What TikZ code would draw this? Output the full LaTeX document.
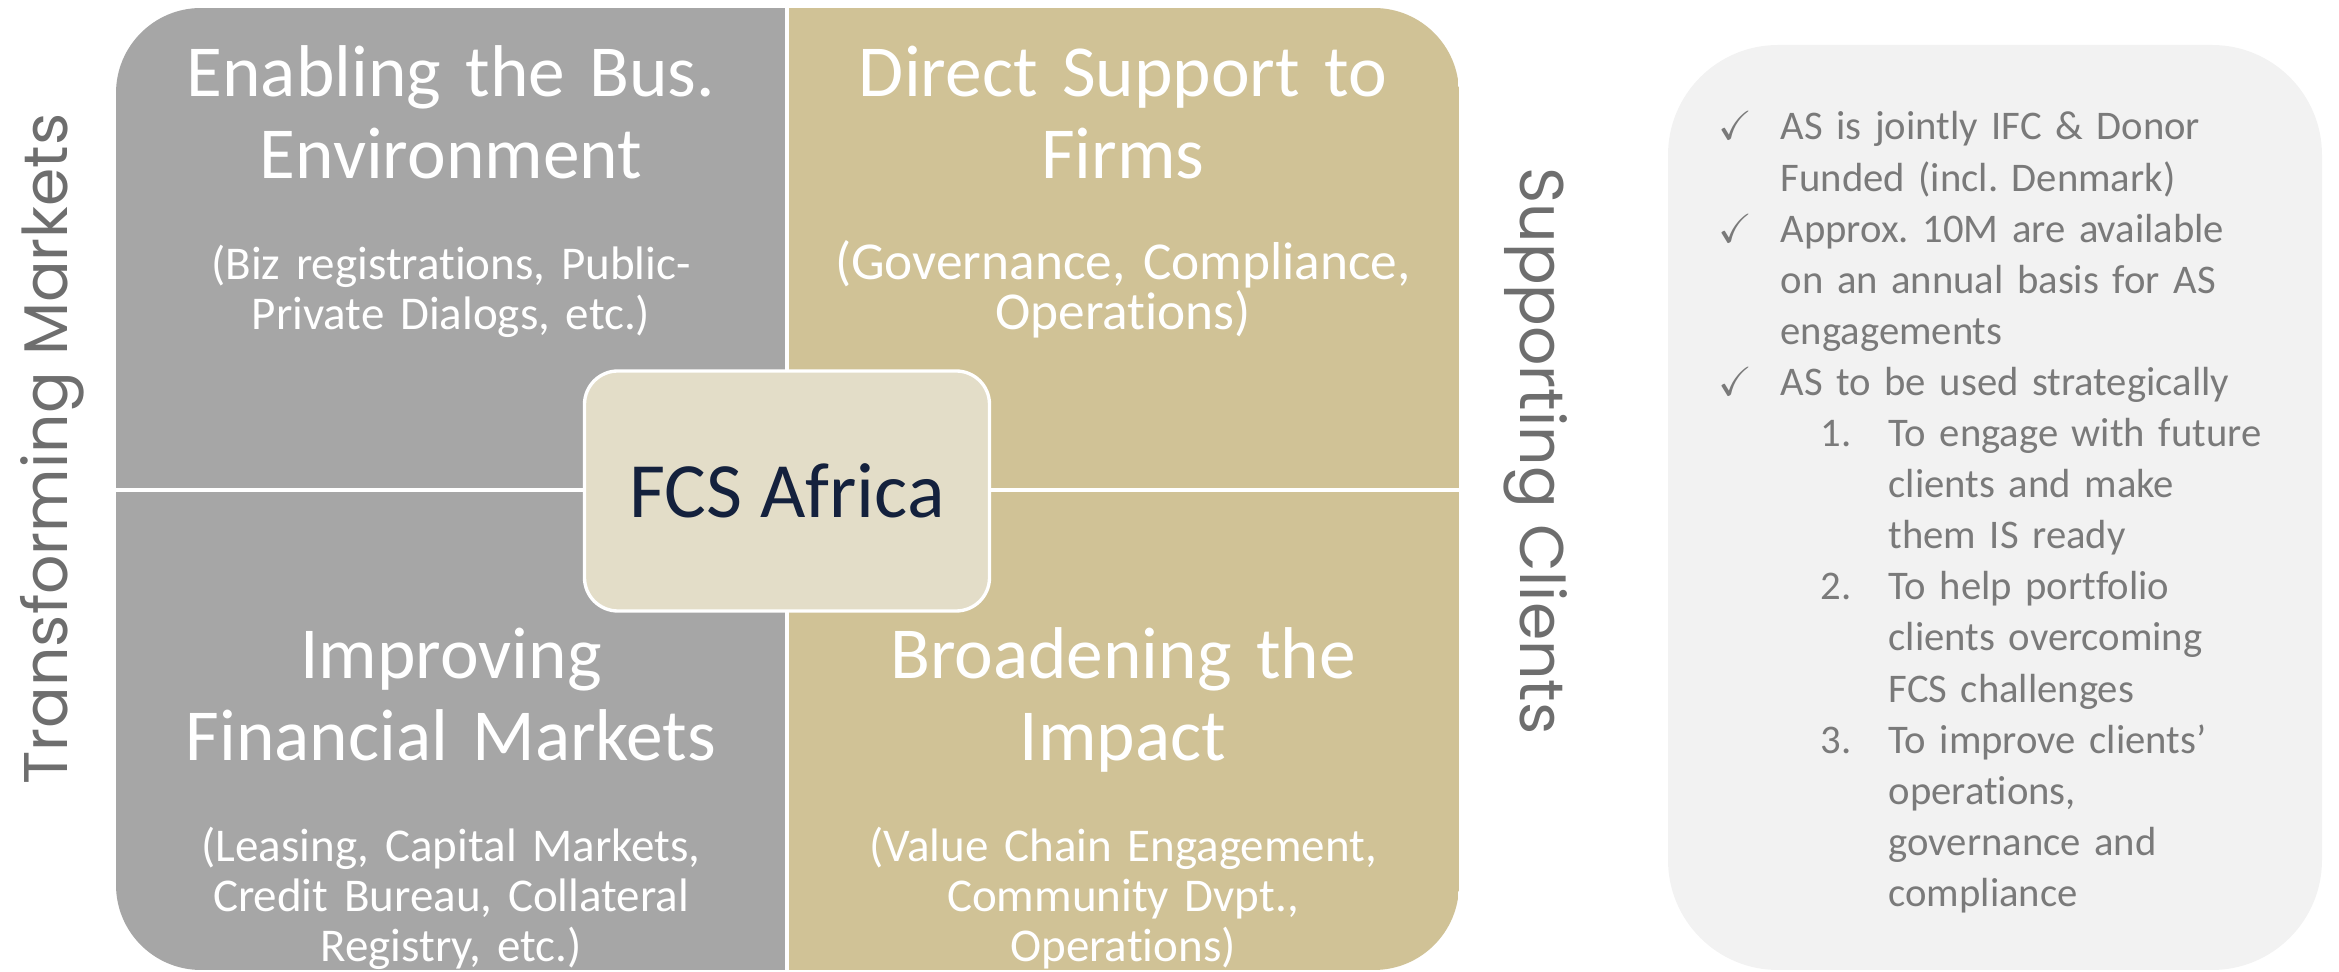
\documentclass[tikz,border=0pt]{standalone}
\usepackage{fontspec}
\usepackage{amssymb}
\setmainfont{Carlito}[Ligatures=NoCommon]
\newfontfamily\sidefont{Poppins}
\usetikzlibrary{positioning}
\frenchspacing

\definecolor{quadgray}{HTML}{A6A6A6}
\definecolor{quadtan}{HTML}{D0C296}
\definecolor{corefill}{HTML}{E3DDC8}
\definecolor{corenavy}{HTML}{14213D}
\definecolor{notefill}{HTML}{F2F2F2}
\definecolor{notegray}{HTML}{7A7A7A}
\definecolor{sidegray}{HTML}{6E6E6E}

% columns of the notes list
\newcommand{\tickcol}{\makebox[18.6pt][l]{\checkmark}}
\newcommand{\tickgap}{\hspace*{18.6pt}}
\newcommand{\numcol}[1]{\hspace*{30.6pt}\makebox[20.4pt][l]{#1}}
\newcommand{\numgap}{\hspace*{51pt}}

\begin{document}
\begin{tikzpicture}[x=0.3pt,y=-0.3pt,
  quadtitle/.style={text=white,align=center,inner sep=0pt,text width=190pt,
    font=\fontsize{22}{24.5}\selectfont},
  quadsub/.style={text=white,align=center,inner sep=0pt,text width=190pt,
    font=\fontsize{14.1}{15}\selectfont},
  corebox/.style={fill=corefill,draw=white,line width=1pt,rounded corners=10pt,
    minimum width=121.5pt,minimum height=72pt,text=corenavy,
    font=\fontsize{23.5}{28}\selectfont},
  sidelabel/.style={text=sidegray,inner sep=0pt,font=\sidefont\fontsize{18.5}{22}\selectfont},
  notepanel/.style={fill=notefill,rounded corners=33pt,minimum width=196.2pt,
    minimum height=277.5pt,inner sep=0pt},
  notetext/.style={text=notegray,align=left,inner sep=0pt,text width=175pt,
    font=\fontsize{12.2}{15.33}\selectfont}]
\useasboundingbox (0,0) rectangle (2339,972);

% four quadrants inside one rounded block
\begin{scope}
  \clip[rounded corners=25.5pt] (116,8) rectangle (1459,970);
  \fill[quadgray] (116,8) rectangle (787,970);
  \fill[quadtan] (787,8) rectangle (1459,970);
\end{scope}
\draw[white,line width=1pt] (787,8) -- (787,970);
\draw[white,line width=1pt] (116,490) -- (1459,490);

% quadrant texts
\node[quadtitle,anchor=base] (envtitle) at (451,97) {Enabling the Bus.\\Environment};
\node[quadsub,anchor=base] (envsub) at (451,280) {(Biz registrations, Public-\\Private Dialogs, etc.)};
\node[quadtitle,anchor=base] (firmtitle) at (1123,97) {Direct Support to\\Firms};
\node[quadsub,anchor=base,font=\fontsize{16}{15}\selectfont] (firmsub) at (1123,280) {(Governance, Compliance,\\Operations)};
\node[quadtitle,anchor=base] (fintitle) at (451,679) {Improving\\Financial Markets};
\node[quadsub,anchor=base] (finsub) at (451,862) {(Leasing, Capital Markets,\\Credit Bureau, Collateral\\Registry, etc.)};
\node[quadtitle,anchor=base] (imptitle) at (1123,679) {Broadening the\\Impact};
\node[quadsub,anchor=base] (impsub) at (1123,862) {(Value Chain Engagement,\\Community Dvpt.,\\Operations)};

% centre
\node[corebox] (core) at (787,491) {FCS Africa};

% side labels
\node[sidelabel,rotate=90] (transform) at (52,449) {Transforming Markets};
\node[sidelabel,rotate=-90] (support) at (1536,451) {Supporting Clients};

% notes on the right
\node[notepanel] (panel) at (1995,507.5) {};
\node[notetext,anchor=base west] (notes) at (1718,140) {%
  \tickcol AS is jointly IFC \& Donor\\
  \tickgap Funded (incl. Denmark)\\
  \tickcol Approx. 10M are available\\
  \tickgap on an annual basis for AS\\
  \tickgap engagements\\
  \tickcol AS to be used strategically\\
  \numcol{1.}To engage with future\\
  \numgap clients and make\\
  \numgap them IS ready\\
  \numcol{2.}To help portfolio\\
  \numgap clients overcoming\\
  \numgap FCS challenges\\
  \numcol{3.}To improve clients’\\
  \numgap operations,\\
  \numgap governance and\\
  \numgap compliance};
\end{tikzpicture}
\end{document}
